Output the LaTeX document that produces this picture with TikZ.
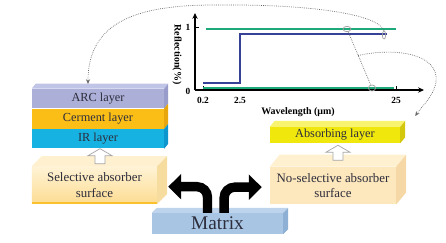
\documentclass[tikz,border=0pt]{standalone}
\usepackage{fontspec}
\setmainfont{Liberation Serif}
\usetikzlibrary{arrows.meta, positioning, calc, shapes.geometric}
\definecolor{arcblue}{RGB}{172,176,216}
\definecolor{arctop}{RGB}{192,196,230}
\definecolor{arcside}{RGB}{152,156,202}
\definecolor{cermcol}{RGB}{250,190,22}
\definecolor{cermside}{RGB}{232,166,14}
\definecolor{ircol}{RGB}{22,178,226}
\definecolor{irside}{RGB}{12,150,205}
\definecolor{seltop}{RGB}{255,240,208}
\definecolor{selfront}{RGB}{255,243,214}
\definecolor{selbottom}{RGB}{252,220,146}
\definecolor{selside}{RGB}{247,220,160}
\definecolor{selline}{RGB}{250,192,45}
\definecolor{nosfront}{RGB}{253,231,188}
\definecolor{nostop}{RGB}{255,240,208}
\definecolor{nosside}{RGB}{246,216,166}
\definecolor{abscol}{RGB}{240,232,12}
\definecolor{abstop}{RGB}{248,244,112}
\definecolor{absside}{RGB}{212,200,12}
\definecolor{matcol}{RGB}{168,198,228}
\definecolor{mattop}{RGB}{190,212,236}
\definecolor{matside}{RGB}{142,176,212}
\definecolor{curvegreen}{RGB}{30,170,120}
\definecolor{curveblue}{RGB}{55,65,150}
\definecolor{txtdark}{RGB}{45,45,60}
\tikzset{
  basebox/.style={rectangle,inner sep=0pt,align=center,text=txtdark},
  layernode/.style={basebox,minimum width=3.96cm,minimum height=0.58cm,font=\fontsize{10.5}{12}\selectfont},
  surfnode/.style={basebox,minimum height=1.12cm,font=\fontsize{11}{13.5}\selectfont},
  absnode/.style={basebox,fill=abscol,minimum width=3.9cm,minimum height=0.48cm,font=\fontsize{10.5}{12}\selectfont},
  matnode/.style={basebox,fill=matcol,minimum width=3.93cm,minimum height=0.63cm,font=\fontsize{16.5}{18}\selectfont},
  ticklbl/.style={font=\fontsize{8}{9}\selectfont\bfseries,inner sep=0pt},
  axislbl/.style={font=\fontsize{8.5}{10}\selectfont\bfseries,inner sep=0pt},
  ring/.style={ellipse,draw=gray!75,line width=0.6pt,inner sep=0pt},
  axisarr/.style={-{Stealth[length=5pt,width=4.5pt]},line width=1.1pt,black},
  greenline/.style={curvegreen,line width=1.7pt},
  blueline/.style={curveblue,line width=1.5pt},
  hollowarr/.style={draw=gray!70,fill=white,line width=0.6pt},
  fatarr/.style={-{Triangle[length=11pt,width=21pt]},line width=8pt,rounded corners=9pt,black},
  dotline/.style={densely dotted,gray!80!black,line width=0.6pt},
  dotarr/.style={dotline,-{Stealth[length=4pt,width=3.5pt]}}
}
\newcommand{\topface}[4]{\fill[#4] (#1.north west) -- ++(#2,#3) -- ($(#1.north east)+(#2,#3)$) -- (#1.north east) -- cycle;}
\newcommand{\sideface}[4]{\fill[#4] (#1.north east) -- ++(#2,#3) -- ($(#1.south east)+(#2,#3)$) -- (#1.south east) -- cycle;}
\begin{document}
\begin{tikzpicture}[x=0.03cm,y=0.03cm]
  \useasboundingbox (0,0) rectangle (446,242);

  \node[layernode,fill=arcblue] (arc) at (98,143.5) {ARC layer};
  \node[layernode,fill=cermcol,minimum height=0.6cm,below=0pt of arc] (cerm) {Cerment layer};
  \node[layernode,fill=ircol,below=0pt of cerm] (ir) {IR layer};
  \topface{arc}{4}{5}{arctop} \sideface{arc}{4}{5}{arcside}
  \sideface{cerm}{4}{5}{cermside} \sideface{ir}{4}{5}{irside}

  \node[surfnode,minimum width=3.75cm,top color=selfront,bottom color=selbottom] (sel) at (94.5,57) {Selective absorber\\surface};
  \topface{sel}{10}{10}{seltop} \sideface{sel}{10}{10}{selside}
  \draw[selline,line width=2pt] ([yshift=1pt]sel.south west) -- ([yshift=1pt]sel.south east);

  \node[surfnode,minimum width=3.78cm,fill=nosfront] (nosel) at (333,56.5) {No-selective absorber\\surface};
  \topface{nosel}{10}{12}{nostop} \sideface{nosel}{10}{12}{nosside}
  \node[absnode] (absorb) at (335,107) {Absorbing layer};
  \topface{absorb}{5}{6}{abstop} \sideface{absorb}{5}{6}{absside}

  \node[matnode] (mtx) at (217.5,18.5) {Matrix};
  \topface{mtx}{5}{5}{mattop} \sideface{mtx}{5}{5}{matside}

  \coordinate (tipL) at ([xshift=0.06cm]ir.south);
  \draw[hollowarr] (tipL) -- ++(-12,-7) -- ++(7,0) -- ++(0,-8) -- ++(10,0) -- ++(0,8) -- ++(7,0) -- cycle;
  \coordinate (tipR) at ([xshift=0.09cm,yshift=-0.06cm]absorb.south);
  \draw[hollowarr] (tipR) -- ++(-12,-7) -- ++(7,0) -- ++(0,-8) -- ++(10,0) -- ++(0,8) -- ++(7,0) -- cycle;

  \draw[fatarr] ([xshift=-0.3cm]mtx.north) |- ([xshift=0.33cm,yshift=-0.05cm]sel.east);
  \draw[fatarr] ([xshift=0.2cm]mtx.north) |- ([xshift=-0.24cm,yshift=-0.05cm]nosel.west);

  \coordinate (origin) at (195,152);
  \coordinate (yend) at (195,229);
  \coordinate (xend) at (424,152);
  \draw[axisarr] (origin) -- (yend);
  \draw[axisarr] (origin) -- (xend);
  \draw[line width=0.8pt] (195,215) -- (199,215) (203,152) -- (203,156) (396,152) -- (396,156);
  \node[ticklbl] (lbl1) at (188,215) {1};
  \node[ticklbl] (lbl0) at (188,151) {0};
  \node[ticklbl] (lbla) at (203,142) {0.2};
  \node[ticklbl] (lblb) at (240,142) {2.5};
  \node[ticklbl] (lblc) at (396,142) {25};
  \node[axislbl] (xlbl) at (298,130) {Wavelength (μm)};
  \node[axislbl,rotate=-90] (ylbl) at (177,187.5) {Reflection(\%)};

  \draw[greenline] (206,213) -- (396,213);
  \draw[blueline] (203,159) -- (240,159) -- (240,208) -- (387,208);
  \draw[greenline] (203,154) -- (394,154);

  \node[ring,minimum width=0.24cm,minimum height=0.16cm] (c1) at (347,213) {};
  \node[ring,minimum width=0.1cm,minimum height=0.24cm] (c2) at (384,207) {};
  \node[ring,minimum width=0.22cm,minimum height=0.18cm] (c3) at (372,154) {};

  \coordinate (peakA) at (215,237);
  \draw[dotarr] (c2.north) .. controls (378,228) and (310,238) .. (peakA)
      .. controls (140,237) and (88,222) .. ([xshift=-0.3cm,yshift=0.14cm]arc.north);
  \draw[dotline] (c1) -- (c3);
  \coordinate (bmid) at ($(c1)!0.45!(c3)$);
  \draw[dotarr] (bmid) .. controls (390,194) and (433,190) .. (436,166)
      .. controls (438,150) and (422,136) .. ([xshift=0.45cm,yshift=0.57cm]absorb.east);
\end{tikzpicture}
\end{document}
